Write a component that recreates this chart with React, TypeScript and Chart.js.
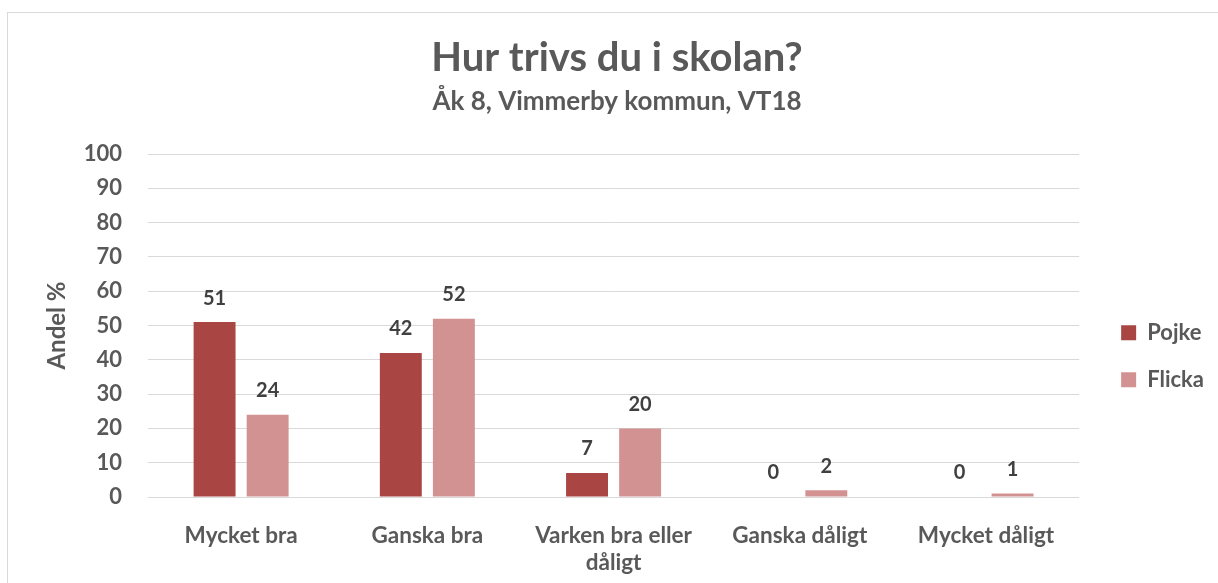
import React, { useEffect, useRef } from "react";
import { Chart, registerables } from "chart.js";

Chart.register(...registerables);

const categories: (string | string[])[] = [
  "Mycket bra",
  "Ganska bra",
  ["Varken bra eller", "dåligt"],
  "Ganska dåligt",
  "Mycket dåligt",
];
const pojkeValues = [51, 42, 7, 0, 0];
const flickaValues = [24, 52, 20, 2, 1];
const seriesNames = ["Pojke", "Flicka"];
const yMin = 0;
const yMax = 100;
const yStep = 10;

const titleText = "Hur trivs du i skolan?";
const subtitleText = "Åk 8, Vimmerby kommun, VT18";
const yTitleText = "Andel %";

const FONT = "Lato, 'Open Sans', sans-serif";
const TEXT = "#595959";

const valueLabels = {
  id: "valueLabels",
  afterDatasetsDraw(chart: any) {
    const ctx = chart.ctx;
    ctx.save();
    ctx.font = `bold 20px ${FONT}`;
    ctx.fillStyle = "#404040";
    ctx.textAlign = "center";
    ctx.textBaseline = "middle";
    chart.data.datasets.forEach((ds: any, i: number) => {
      const meta = chart.getDatasetMeta(i);
      meta.data.forEach((el: any, j: number) => {
        ctx.fillText(String(ds.data[j]), el.x, el.y - 24);
      });
    });
    ctx.restore();
  },
};

export default function App() {
  const canvasRef = useRef<HTMLCanvasElement | null>(null);

  useEffect(() => {
    document.documentElement.style.overflow = "hidden";
    document.body.style.overflow = "hidden";
    let chart: Chart | null = null;
    let cancelled = false;
    const make = () => {
      if (cancelled || !canvasRef.current) return;
      Chart.defaults.font.family = FONT;
      chart = new Chart(canvasRef.current, {
        type: "bar",
        data: {
          labels: categories as any,
          datasets: [
            {
              label: seriesNames[0],
              data: pojkeValues,
              backgroundColor: "#A94644",
              borderWidth: 0,
              categoryPercentage: 0.57,
              barPercentage: 0.79,
            },
            {
              label: seriesNames[1],
              data: flickaValues,
              backgroundColor: "#D39292",
              borderWidth: 0,
              categoryPercentage: 0.57,
              barPercentage: 0.79,
            },
          ],
        },
        options: {
          animation: false,
          responsive: false,
          maintainAspectRatio: false,
          layout: { padding: { left: 12, right: 4, top: 0, bottom: 0 } },
          plugins: {
            title: {
              display: true,
              text: titleText,
              color: TEXT,
              font: { size: 40, weight: "bold", family: FONT },
              padding: { top: 20.6, bottom: 0 },
            },
            subtitle: {
              display: true,
              text: subtitleText,
              color: TEXT,
              font: { size: 26, weight: "bold", family: FONT },
              padding: { top: 4.75, bottom: 36.45 },
            },
            legend: {
              display: true,
              position: "right",
              fullSize: false,
              align: "center",
              title: {
                display: true,
                text: "",
                font: { size: 12 },
                padding: { top: 47, bottom: 0 },
              },
              labels: {
                boxWidth: 15,
                boxHeight: 15,
                padding: 25,
                color: TEXT,
                font: { size: 22, weight: "bold", family: FONT },
              },
            },
            tooltip: { enabled: false },
          },
          scales: {
            x: {
              grid: { display: false },
              border: { display: false },
              ticks: {
                color: TEXT,
                font: { size: 22.5, weight: "bold", family: FONT },
                padding: 17,
                maxRotation: 0,
                autoSkip: false,
              },
              afterFit: (s: any) => {
                s.height = 86;
              },
            },
            y: {
              min: yMin,
              max: yMax,
              ticks: {
                stepSize: yStep,
                color: TEXT,
                font: { size: 22, weight: "bold", family: FONT },
                padding: 26,
              },
              grid: { color: "#d9d9d9", lineWidth: 1, drawTicks: false },
              border: { display: false },
              title: {
                display: true,
                text: yTitleText,
                color: TEXT,
                font: { size: 24, weight: "bold", family: FONT },
                padding: { top: 23.3, bottom: 0 },
              },
              afterFit: (s: any) => {
                s.width = 128;
              },
            },
            pad: {
              type: "linear",
              position: "right",
              display: true,
              grid: { display: false },
              border: { display: false },
              ticks: { display: false },
              afterFit: (s: any) => {
                s.width = 17;
              },
            },
          },
        } as any,
        plugins: [valueLabels],
      });
    };
    const fontsApi = (document as any).fonts;
    if (fontsApi && fontsApi.load) {
      Promise.all([
        fontsApi.load(`bold 21px Lato`),
        fontsApi.load(`bold 40px Lato`),
      ])
        .catch(() => null)
        .then(make);
    } else {
      make();
    }
    return () => {
      cancelled = true;
      if (chart) chart.destroy();
    };
  }, []);

  return (
    <div
      style={{
        position: "absolute",
        left: 7,
        top: 12,
        width: 1240,
        height: 600,
        border: "1px solid #d9d9d9",
        background: "#fff",
      }}
    >
      <canvas
        ref={canvasRef}
        width={1210}
        height={570}
        style={{ display: "block", width: 1210, height: 570 }}
      />
    </div>
  );
}
